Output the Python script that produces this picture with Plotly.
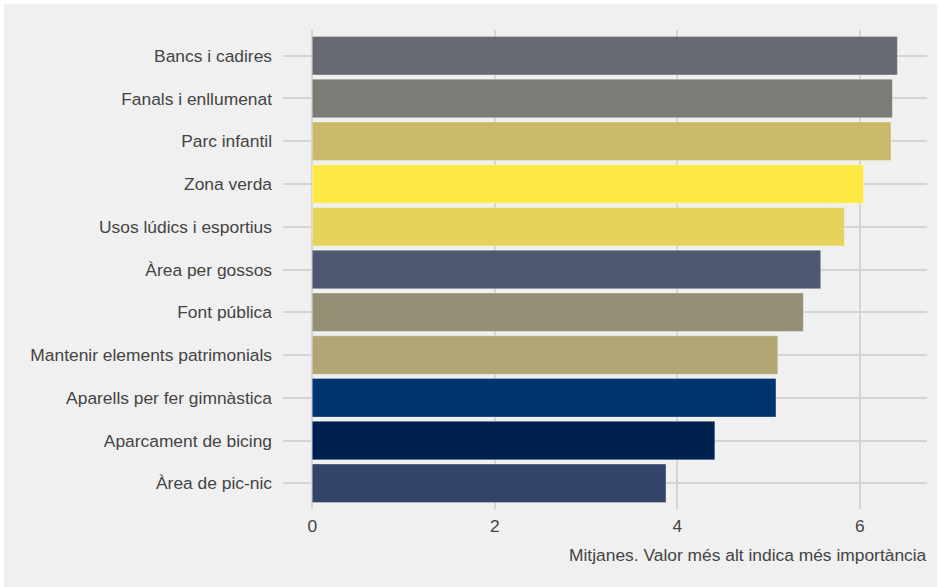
import plotly.graph_objects as go

categories = ["Bancs i cadires", "Fanals i enllumenat", "Parc infantil", "Zona verda",
              "Usos lúdics i esportius", "Àrea per gossos", "Font pública",
              "Mantenir elements patrimonials", "Aparells per fer gimnàstica",
              "Aparcament de bicing", "Àrea de pic-nic"]
values = [6.41, 6.355, 6.34, 6.04, 5.83, 5.57, 5.38, 5.10, 5.08, 4.41, 3.875]
colors = ["#676a72", "#7d7b76", "#cbb96b", "#ffe945", "#e6d35c", "#4f5670",
          "#958f76", "#b1a574", "#003470", "#00204d", "#324469"]
x_ticks = [0, 2, 4, 6]
x_title = "Mitjanes. Valor més alt indica més importància"

W, H = 940, 587
L, R, T, B = 283, 13, 30, 78
pw, ph = W - L - R, H - T - B
FS = 17.4
TC = "#444444"

fig = go.Figure(go.Bar(
    x=values, y=categories, orientation="h",
    marker=dict(color=colors, line=dict(width=0.6, color="rgba(255,255,255,0.5)")),
    width=0.9,
))

fig.add_shape(type="rect", xref="paper", yref="paper", layer="below",
              x0=(4 - L) / pw, x1=(937 - L) / pw,
              y0=-(B + 5) / ph, y1=(H - B - 4) / ph,
              fillcolor="#f0f0f0", line=dict(width=0))

fig.update_layout(
    width=W, height=H,
    margin=dict(l=L, r=R, t=T, b=B),
    paper_bgcolor="white", plot_bgcolor="#f0f0f0",
    font=dict(family="Liberation Sans, Arial, sans-serif", size=FS, color=TC),
    showlegend=False,
    xaxis=dict(range=[-0.3207, 6.7347], tickvals=x_ticks, showgrid=True,
               gridcolor="#d4d4d4", gridwidth=1.6, zeroline=False,
               tickfont=dict(size=FS, color=TC), ticks="",
               ticklabelstandoff=5),
    yaxis=dict(categoryorder="array", categoryarray=categories[::-1],
               range=[-0.6, len(categories) - 0.4],
               showgrid=True, gridcolor="#d4d4d4", gridwidth=1.6,
               tickfont=dict(size=FS, color=TC), ticks="",
               ticklabelstandoff=10),
    annotations=[dict(text=x_title, xref="paper", yref="paper", x=1, y=-(553 - 509 - 10) / ph,
                      xanchor="right", yanchor="top", showarrow=False, xshift=2,
                      font=dict(size=FS, color=TC))],
)

fig.write_html("out.html", config={"displayModeBar": False},
               post_script="document.body.style.margin='0';document.body.style.overflow='hidden';")
